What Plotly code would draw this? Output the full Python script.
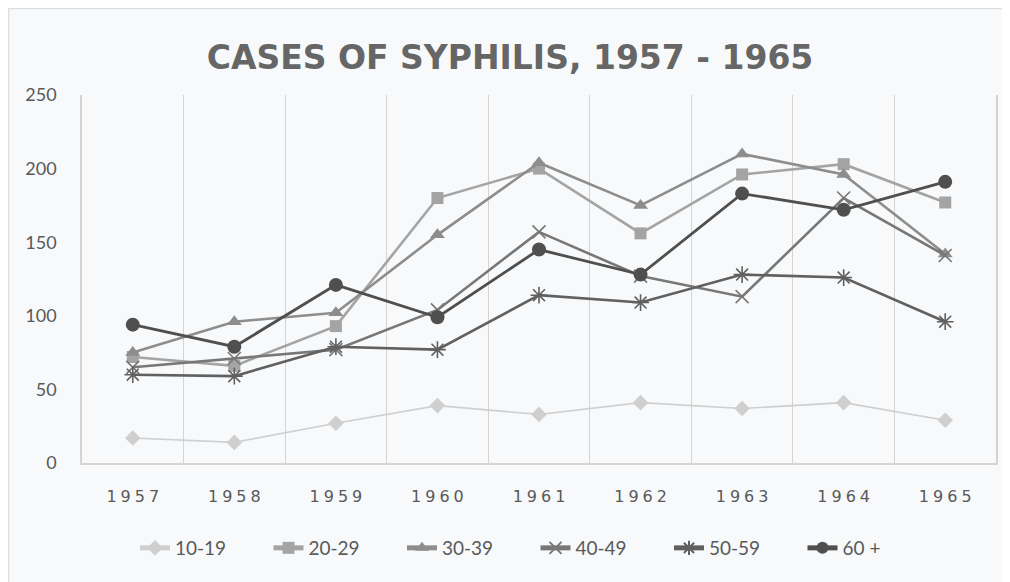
import plotly.graph_objects as go

years = [1957, 1958, 1959, 1960, 1961, 1962, 1963, 1964, 1965]
age_10_19 = [17, 14, 27, 39, 33, 41, 37, 41, 29]
age_20_29 = [72, 66, 93, 180, 200, 156, 196, 203, 177]
age_30_39 = [75, 96, 102, 155, 204, 175, 210, 196, 142]
age_40_49 = [65, 71, 77, 104, 157, 127, 113, 180, 141]
age_50_59 = [60, 59, 79, 77, 114, 109, 128, 126, 96]
age_60_plus = [94, 79, 121, 99, 145, 128, 183, 172, 191]
series_names = ["10-19", "20-29", "30-39", "40-49", "50-59", "60 +"]
y_ticks = [0, 50, 100, 150, 200, 250]

series = [age_10_19, age_20_29, age_30_39, age_40_49, age_50_59, age_60_plus]
colors = ["#cfcfcf", "#a4a4a4", "#8d8d8d", "#777777", "#606060", "#4f4f4f"]
symbols = ["diamond", "square", "triangle-up", "x-thin-open", "asterisk-open", "circle"]
msizes = [12, 12, 13, 13, 14, 14]
lwidths = [1.6, 2.6, 2.6, 2.6, 2.6, 2.8]

cats = [str(y) for y in years]
ticktext = ["\u2005".join(c) for c in cats]

fig = go.Figure()
for name, vals, col, sym, ms, lw in zip(series_names, series, colors, symbols, msizes, lwidths):
    open_sym = sym.endswith("-open")
    fig.add_trace(go.Scatter(
        x=cats, y=vals, name=name, mode="lines+markers",
        line=dict(color=col, width=lw),
        marker=dict(symbol=sym, size=ms, color=col,
                    line=dict(color=col, width=1.6 if open_sym else 0)),
    ))

# page body adds an 8px offset; figure coordinates = screen - 8
OFF = 8
W, H = 1010 - OFF, 582 - OFF
L, R, T, B = 82 - OFF, 14, 95 - OFF, 582 - 463
pw, ph = W - L - R, H - T - B

def px_x(p):
    return (p - L) / pw

def px_y(p):
    return (H - B - p) / ph

fig.add_shape(type="rect", xref="paper", yref="paper",
              x0=px_x(0.5), x1=px_x(1020), y0=px_y(0.5), y1=px_y(600),
              fillcolor="rgba(0,0,0,0)", line=dict(color="#dcdddf", width=1.5), layer="below")

fig.update_layout(
    width=W, height=H,
    margin=dict(l=L, r=R, t=T, b=B),
    paper_bgcolor="#f7f9fb", plot_bgcolor="rgba(0,0,0,0)",
    title=dict(text="CASES OF SYPHILIS, 1957 - 1965", x=(510 - OFF) / W, xanchor="center",
               xref="container", y=1 - (57 - OFF) / H, yref="container", yanchor="middle",
               font=dict(family="DejaVu Sans", size=33, color="#666666", weight="bold")),
    showlegend=True,
    legend=dict(orientation="h", x=(135 - OFF) / W, xanchor="left", xref="container",
                y=1 - (548 - OFF) / H, yref="container", yanchor="middle",
                font=dict(family="Lato", size=19, color="#595959"),
                bgcolor="rgba(0,0,0,0)", entrywidth=88.5, entrywidthmode="pixels",
                itemsizing="constant"),
    font=dict(family="Lato", color="#595959"),
)
fig.update_xaxes(type="category", range=[-0.5, 8.5], tickmode="array", tickvals=cats,
                 ticktext=ticktext, tickson="boundaries", showgrid=True,
                 gridcolor="#d6d3d1", gridwidth=1, showline=True, linecolor="#d6d3d1",
                 linewidth=1.5, ticks="", ticklabelstandoff=18,
                 tickfont=dict(family="DejaVu Sans", size=16, color="#595959"),
                 zeroline=False)
fig.update_yaxes(range=[0, 250], tickvals=y_ticks, showgrid=False, zeroline=False,
                 showline=True, mirror=True, linecolor="#d6d3d1", linewidth=1.5,
                 ticks="", ticklabelstandoff=20,
                 tickfont=dict(family="Lato", size=18, color="#595959"))

fig.write_html("out.html")
